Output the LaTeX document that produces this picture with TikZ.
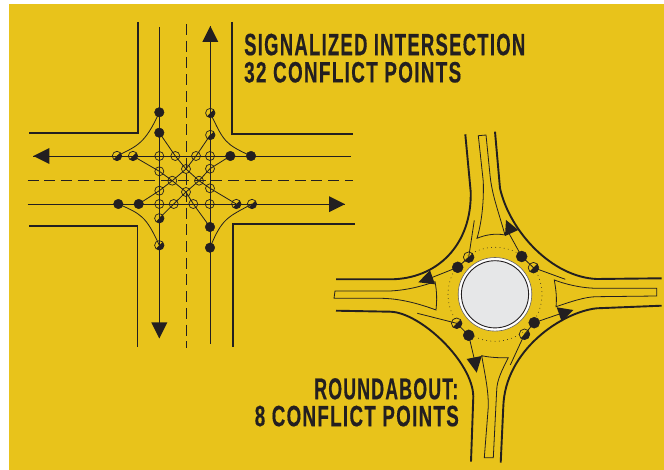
\documentclass[tikz,border=0pt]{standalone}
\usepackage{fontspec}
\setmainfont{Liberation Sans}
\newfontfamily\titlefont[LetterSpace=7,FakeBold=0.5]{Liberation Sans Bold}
\usetikzlibrary{calc}
\definecolor{bgyellow}{HTML}{E8C31B}
\definecolor{ink}{HTML}{231F20}
\definecolor{hub}{HTML}{E6E7E8}
\tikzset{
  curb/.style={draw=ink,line width=1.7pt},
  thickcurb/.style={draw=ink,line width=1.9pt},
  lane/.style={draw=ink,line width=0.9pt},
  thinl/.style={draw=ink,line width=0.8pt},
  isle/.style={draw=ink,line width=0.8pt,line join=miter},
  centre/.style={draw=ink,line width=0.9pt,dash pattern=on 11pt off 5.7pt},
  head/.style={fill=ink,draw=none},
  solid dot/.style={circle,fill=ink,draw=ink,line width=0.4pt,inner sep=0pt,minimum size=9.6pt},
  half dot/.style={circle,draw=ink,line width=0.7pt,inner sep=0pt,minimum size=9.4pt,
    path picture={\fill[ink] (path picture bounding box.north east) -- (path picture bounding box.south west) -- (path picture bounding box.south east) -- cycle;}},
  open dot/.style={circle,draw=ink,line width=0.7pt,inner sep=0pt,minimum size=9pt},
  big solid/.style={solid dot,minimum size=11pt},
  big half/.style={half dot,minimum size=10.6pt},
  title/.style={inner sep=0pt,text=ink,font=\titlefont},
}
\newcommand{\sized}[3]{\resizebox{#1pt}{#2pt}{#3}}
\begin{document}
\begin{tikzpicture}[x=1pt,y=1pt,yscale=-1]
\useasboundingbox (0,0) rectangle (664,470);
\fill[bgyellow] (9,4) rectangle (664,470);

% ---------- signalized intersection ----------
\draw[curb] (137.7,22) -- (137.7,133.2) -- (29,133.2);
\draw[curb] (232,22) -- (232,134) -- (352.7,134);
\draw[curb] (29,226.3) -- (137.5,226.3) -- (137.5,347);
\draw[curb] (354.7,224.3) -- (233.3,224.3) -- (233.3,347);
\draw[centre] (186,24) -- (186,348);
\draw[centre] (27.5,180) -- (353,180);

\coordinate (wE) at (350.7,156);
\coordinate (wW) at (33.3,156);
\coordinate (eW) at (27.7,204.2);
\coordinate (eE) at (345,204.2);
\coordinate (nS) at (159.3,27);
\coordinate (nN) at (159.3,338.5);
\coordinate (sS) at (210.3,343.5);
\coordinate (sN) at (210.3,26);
\draw[lane] (wE) -- (wW);
\draw[lane] (eW) -- (eE);
\draw[lane] (nS) -- (nN);
\draw[lane] (sS) -- (sN);
\fill[head] (wW) -- ++(16,-8) -- ++(0,16) -- cycle;
\fill[head] (eE) -- ++(-16,-8) -- ++(0,16) -- cycle;
\fill[head] (sN) -- ++(-8,16) -- ++(16,0) -- cycle;
\fill[head] (nN) -- ++(-8,-16) -- ++(16,0) -- cycle;

\node[solid dot] (s1) at (159.3,112.3) {};
\node[solid dot] (s2) at (159.3,132.7) {};
\node[solid dot] (s3) at (230.3,156) {};
\node[solid dot] (s4) at (251,156) {};
\node[solid dot] (s5) at (118.3,204) {};
\node[solid dot] (s6) at (138.7,204) {};
\node[solid dot] (s7) at (210,227) {};
\node[solid dot] (s8) at (210,247.7) {};
\node[half dot] (h1) at (210.3,113) {};
\node[half dot] (h2) at (210.3,135) {};
\node[half dot] (h3) at (117,156) {};
\node[half dot] (h4) at (133,156) {};
\node[half dot] (h5) at (236.3,204) {};
\node[half dot] (h6) at (252,204) {};
\node[half dot] (h7) at (159.3,218.3) {};
\node[half dot] (h8) at (159.3,245.3) {};
\node[open dot] (o1) at (159.3,156) {};
\node[open dot] (o2) at (175.3,156) {};
\node[open dot] (o3) at (196,156) {};
\node[open dot] (o4) at (210,156) {};
\node[open dot] (o5) at (159.3,204) {};
\node[open dot] (o6) at (173.7,204) {};
\node[open dot] (o7) at (193.3,204) {};
\node[open dot] (o8) at (209.7,204) {};
\node[open dot] (o9) at (159.3,171.3) {};
\node[open dot] (o10) at (159.3,190.7) {};
\node[open dot] (o11) at (210,168.7) {};
\node[open dot] (o12) at (210,188.3) {};
\node[open dot] (i1) at (186,169) {};
\node[open dot] (i2) at (172.3,180.7) {};
\node[open dot] (i3) at (199,180.7) {};
\node[open dot] (i4) at (186,192) {};

\draw[thinl] (s2.center) -- (o2.center) -- (i1.center) -- (i3.center) -- (o12.center) -- (h5.center);
\draw[thinl] (h4.center) -- (o9.center) -- (i2.center) -- (i4.center) -- (o7.center) -- (s7.center);
\draw[thinl] (s3.center) -- (o11.center) -- (i3.center) -- (i4.center) -- (o6.center) -- (h7.center);
\draw[thinl] (h2.center) -- (o3.center) -- (i1.center) -- (i2.center) -- (o10.center) -- (s6.center);
\draw[thinl] (h3.center) .. controls (137,146) and (145,144) .. (s1.center);
\draw[thinl] (h1.center) .. controls (224,142) and (225,144) .. (s4.center);
\draw[thinl] (s5.center) .. controls (141,214) and (146,216) .. (h8.center);
\draw[thinl] (h6.center) .. controls (228,217) and (222,218) .. (s8.center);

% ---------- roundabout ----------
\draw[thickcurb] (465.3,134.3) -- (470.7,191.7) .. controls (472,245) and (437,279.3) .. (390,279.3) -- (336,279.3);
\draw[thickcurb] (495,131.7) -- (500,188.3) .. controls (510,232) and (552,277) .. (596.7,279) -- (661.7,278.3);
\draw[thickcurb] (336,310.7) -- (390,311.7) .. controls (420,312) and (473,362) .. (473.3,396.7) -- (471,461.7);
\draw[thickcurb] (661.7,305.7) -- (596.7,308.3) .. controls (562,312) and (505,350) .. (503.3,406.7) -- (500.7,462.7);

\draw[isle] (478.3,135.7) -- (486,135) -- (490,175) .. controls (492,195) and (498,210) .. (505,235)
  .. controls (495,233) and (485,235) .. (477,238.3) .. controls (481,225) and (484,205) .. (483.3,181.7) -- cycle;
\draw[isle] (335,291) -- (390,291) .. controls (410,290) and (425,285) .. (435,281.7)
  .. controls (437,292) and (437,300) .. (436,310) .. controls (420,304) and (400,298.3) .. (380,298.3) -- (334,298.3) -- cycle;
\draw[isle] (656.7,288.3) -- (596.7,288.3) .. controls (580,288) and (565,284) .. (554.3,280)
  .. controls (556,290) and (557,298) .. (556,306.7) .. controls (570,302) and (585,296.7) .. (596.7,296.7) -- (656.7,296) -- cycle;
\draw[isle] (481.7,355.7) .. controls (490,357.5) and (500,358) .. (508.3,357.7)
  .. controls (502,370) and (497,380) .. (496.7,390) -- (493.3,457.7) -- (484.3,457.7) -- (488.3,406.7) .. controls (488.5,390) and (485,375) .. cycle;

\coordinate (hubc) at (495,294.3);
\filldraw[fill=white,draw=ink!70,line width=0.6pt] (hubc) circle[radius=36.8];
\filldraw[fill=hub,draw=ink,line width=0.9pt] (hubc) circle[radius=33.6];
\tikzset{ring/.style={draw=ink,line width=0.9pt,line cap=round,dash pattern=on 0.01pt off 4.2pt}}
\draw[ring] (hubc) ++(-125:47) arc[start angle=-125,end angle=-55,radius=47];
\draw[ring] (hubc) ++(-34:47) arc[start angle=-34,end angle=36,radius=47];
\draw[ring] (hubc) ++(54:47) arc[start angle=54,end angle=123,radius=47];
\draw[ring] (hubc) ++(144:47) arc[start angle=144,end angle=217,radius=47];

\node[big solid] (r1) at (521.7,256.5) {};
\node[big half] (r2) at (533.5,267.7) {};
\node[big solid] (r3) at (534.2,322.7) {};
\node[big half] (r4) at (524.5,334.3) {};
\node[big solid] (r5) at (468.7,335.3) {};
\node[big half] (r6) at (456.7,323.3) {};
\node[big solid] (r7) at (457.7,267.3) {};
\node[big half] (r8) at (468.7,257.2) {};

\coordinate (a1) at (506,228);
\coordinate (a2) at (430,278.3);
\coordinate (a3) at (475,362);
\coordinate (a4) at (561,313.5);
\coordinate (t1) at (565.3,279.3);
\coordinate (t2) at (474.3,220.3);
\coordinate (t3) at (417.3,313.3);
\coordinate (t4) at (510.3,365);
\draw[thinl] (a1) -- (r1.center) -- (r2.center) -- (t1);
\draw[thinl] (t2) -- (r8.center) -- (r7.center) -- (a2);
\draw[thinl] (t3) -- (r6.center) -- (r5.center) -- (a3);
\draw[thinl] (a4) -- (r3.center) -- (r4.center) -- (t4);
\fill[head] (506,220) -- (518.3,230) -- (505,236) -- cycle;
\fill[head] (418.3,282.3) -- (430,270.3) -- (435,284.3) -- cycle;
\fill[head] (466.7,359) -- (481.7,356) -- (476.7,372.7) -- cycle;
\fill[head] (556.7,307.3) -- (573.3,310) -- (561.7,321.7) -- cycle;

% ---------- titles ----------
\node[title,anchor=north west] (t-a) at (244,33.5) {\sized{281}{21.5}{SIGNALIZED INTERSECTION}};
\node[title,anchor=north west] (t-b) at (244,61.7) {\sized{217}{20.5}{32 CONFLICT POINTS}};
\node[title,anchor=north east] (t-c) at (458.5,378) {\sized{144}{21}{ROUNDABOUT:}};
\node[title,anchor=north east] (t-d) at (459,405.5) {\sized{204}{20.5}{8 CONFLICT POINTS}};
\end{tikzpicture}
\end{document}
